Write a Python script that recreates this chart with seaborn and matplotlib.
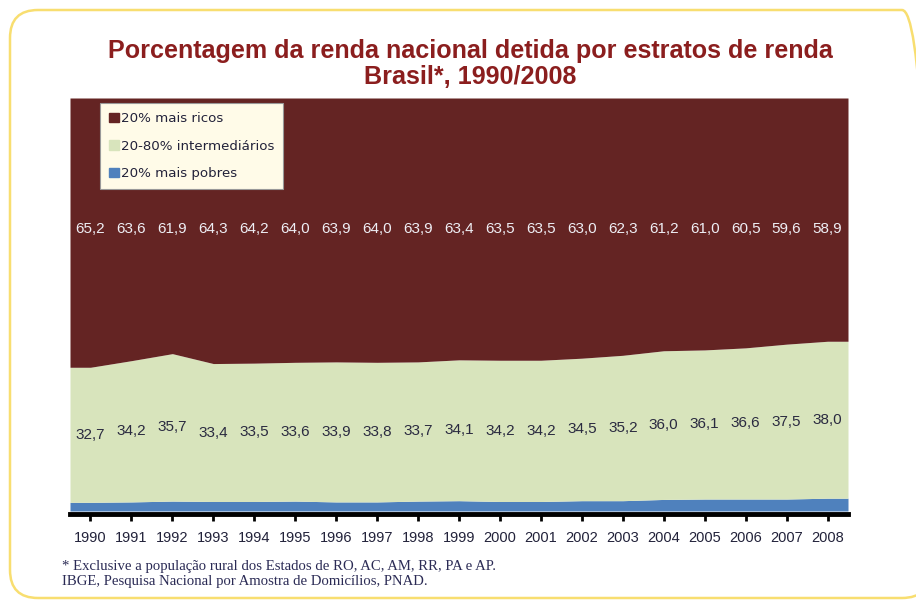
import numpy as np
import seaborn as sns
import matplotlib.pyplot as plt
from matplotlib.patches import FancyBboxPatch

# Data
years = [1990, 1991, 1992, 1993, 1994, 1995, 1996, 1997, 1998, 1999,
         2000, 2001, 2002, 2003, 2004, 2005, 2006, 2007, 2008]
ricos = [65.2, 63.6, 61.9, 64.3, 64.2, 64.0, 63.9, 64.0, 63.9, 63.4,
         63.5, 63.5, 63.0, 62.3, 61.2, 61.0, 60.5, 59.6, 58.9]
intermediarios = [32.7, 34.2, 35.7, 33.4, 33.5, 33.6, 33.9, 33.8, 33.7, 34.1,
                  34.2, 34.2, 34.5, 35.2, 36.0, 36.1, 36.6, 37.5, 38.0]
pobres = [2.1, 2.2, 2.4, 2.3, 2.3, 2.4, 2.2, 2.2, 2.4, 2.5,
          2.3, 2.3, 2.5, 2.5, 2.8, 2.9, 2.9, 2.9, 3.1]
series_names = ["20% mais ricos", "20-80% intermediários", "20% mais pobres"]

title = "Porcentagem da renda nacional detida por estratos de renda\nBrasil*, 1990/2008"
footnote = ("* Exclusive a população rural dos Estados de RO, AC, AM, RR, PA e AP.\n"
            "IBGE, Pesquisa Nacional por Amostra de Domicílios, PNAD.")

RED = "#642423"
GREEN = "#D8E4BC"
BLUE = "#4F81BD"

sns.set_theme(style="white")
plt.rcParams['font.family'] = ['Liberation Sans', 'DejaVu Sans']

fig = plt.figure(figsize=(9.16, 6.02), dpi=100)
ax = fig.add_axes([70 / 916, 1 - 511 / 602, 778 / 916, 413 / 602])

# extend each series half a category to both sides (flat edges like the original)
yr = np.array(years, dtype=float)
x_ext = np.r_[yr[0] - 0.5, yr, yr[-1] + 0.5]


def ext(v):
    v = np.asarray(v, dtype=float)
    return np.r_[v[0], v, v[-1]]


ax.stackplot(x_ext, ext(pobres), ext(intermediarios), ext(ricos),
             colors=[BLUE, GREEN, RED], linewidth=0)

ax.set_xlim(yr[0] - 0.5, yr[-1] + 0.5)
ax.set_ylim(0, 100)

# value labels
pob = np.array(pobres)
mid = np.array(intermediarios)
for x, r, m, p in zip(yr, ricos, mid, pob):
    ax.text(x, 68.4, f"{r:.1f}".replace(".", ","), ha="center", va="center",
            fontsize=11, color="#EEEEF4")
    ax.text(x, p + m / 2, f"{m:.1f}".replace(".", ","), ha="center", va="center",
            fontsize=11, color="#2A2A40")

# axes styling
for s in ["top", "left", "right"]:
    ax.spines[s].set_visible(False)
ax.spines["bottom"].set_color("black")
ax.spines["bottom"].set_linewidth(3.5)
ax.spines["bottom"].set_position(("outward", 2.5))
ax.set_yticks([])
ax.set_xticks(years)
ax.set_xticklabels([str(y) for y in years])
ax.tick_params(axis="x", direction="out", length=5, width=2, color="black",
               labelsize=10.5, labelcolor="#22223A", pad=7, bottom=True)
ax.grid(False)

# legend
handles = [plt.Rectangle((0, 0), 1, 1, color=c) for c in [RED, GREEN, BLUE]]
leg = ax.legend(handles, series_names, loc="upper left",
                bbox_to_anchor=(30 / 778, 1 - 5 / 413),
                prop={"family": "DejaVu Sans", "size": 9.6},
                frameon=True, fancybox=False, labelspacing=1.08,
                handlelength=0.7, handleheight=0.7, handletextpad=0.15,
                borderpad=0.7, borderaxespad=0)
leg.get_frame().set_facecolor("#FFFBE8")
leg.get_frame().set_edgecolor("#999999")
leg.get_frame().set_linewidth(0.8)
leg.get_frame().set_alpha(1)
for t in leg.get_texts():
    t.set_color("#22223A")

# title and footnote
fig.text(470 / 916, 1 - 64 / 602, title, ha="center", va="center", fontsize=18.1,
         fontweight="bold", color="#8B1E1E", linespacing=1.12)
fig.text(62 / 916, 1 - 574 / 602, footnote, ha="left", va="center",
         fontsize=10.6, family="Liberation Serif", color="#2B2B55",
         linespacing=1.2)

# rounded yellow frame (right side runs off the canvas)
frame = FancyBboxPatch((10, 4), 920, 588,
                       boxstyle="round,pad=0,rounding_size=28",
                       transform=None, facecolor="none",
                       edgecolor="#F8DE70", linewidth=1.8)
fig.add_artist(frame)

plt.savefig("out.png", dpi=100)
plt.close()
